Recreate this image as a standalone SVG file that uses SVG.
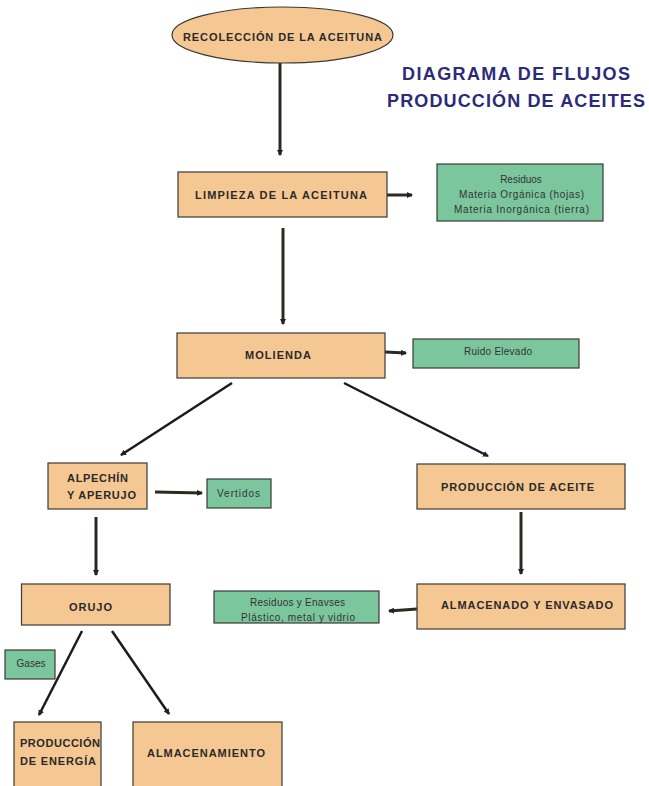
<svg xmlns="http://www.w3.org/2000/svg" width="649" height="786" viewBox="0 0 649 786">
<defs>
<style>
.o{fill:#f5c793;stroke:#3a3a32;stroke-width:1.2}
.g{fill:#7bc69d;stroke:#3a3a32;stroke-width:1.2}
.b{font-family:"Liberation Sans",Arial,sans-serif;font-weight:bold;font-size:11px;fill:#2a2a2a}
.r{font-family:"Liberation Sans",Arial,sans-serif;font-size:10px;fill:#333}
.t{font-family:"Liberation Sans",Arial,sans-serif;font-weight:bold;font-size:18px;fill:#2b2b7a}
.c{fill:none;stroke:#2b2b22;stroke-width:3}
.d{fill:none;stroke:#1c1c1c;stroke-width:2.5}
</style>
<marker id="ah" markerUnits="userSpaceOnUse" markerWidth="6" markerHeight="6" refX="5" refY="3" orient="auto">
<path d="M0,0 L6,3 L0,6 z" fill="#222"/>
</marker>
</defs>
<rect width="649" height="786" fill="#ffffff"/>

<g id="title">
<text class="t" x="402" y="80" textLength="228" lengthAdjust="spacing">DIAGRAMA DE FLUJOS</text>
<text class="t" x="387" y="107" textLength="258" lengthAdjust="spacing">PRODUCCIÓN DE ACEITES</text>
</g>

<g id="connectors">
<path class="c" d="M280,63 L280,155" marker-end="url(#ah)"/>
<path class="c" d="M387,195 L412,195" marker-end="url(#ah)"/>
<path class="c" d="M283,228 L283,324" marker-end="url(#ah)"/>
<path class="c" d="M385,352 L406,353" marker-end="url(#ah)"/>
<path class="d" d="M232,383 L121,455" marker-end="url(#ah)"/>
<path class="d" d="M344,383 L488,456" marker-end="url(#ah)"/>
<path class="c" d="M155,492 L202,493" marker-end="url(#ah)"/>
<path class="c" d="M96,517 L96,575" marker-end="url(#ah)"/>
<path class="c" d="M521,512 L521,574" marker-end="url(#ah)"/>
<path class="c" d="M417,609 L389,611" marker-end="url(#ah)"/>
<path class="d" d="M82,631 L39,715" marker-end="url(#ah)"/>
<path class="d" d="M112,631 L169,714" marker-end="url(#ah)"/>
</g>

<g id="recoleccion">
<ellipse class="o" cx="282.5" cy="35" rx="110.5" ry="28"/>
<text class="b" x="183" y="41" textLength="199" lengthAdjust="spacing">RECOLECCIÓN DE LA ACEITUNA</text>
</g>

<g id="limpieza">
<rect class="o" x="178" y="172" width="209" height="45"/>
<text class="b" x="195" y="199" textLength="172" lengthAdjust="spacing">LIMPIEZA DE LA ACEITUNA</text>
</g>

<g id="residuos">
<rect class="g" x="437" y="164" width="166" height="57"/>
<text class="r" x="521" y="183" text-anchor="middle">Residuos</text>
<text class="r" x="459" y="198" textLength="125" lengthAdjust="spacing">Materia Orgánica (hojas)</text>
<text class="r" x="454" y="213" textLength="135" lengthAdjust="spacing">Materia Inorgánica (tierra)</text>
</g>

<g id="molienda">
<rect class="o" x="177" y="333" width="208" height="45"/>
<text class="b" x="245" y="359" textLength="66" lengthAdjust="spacing">MOLIENDA</text>
</g>

<g id="ruido">
<rect class="g" x="413" y="339" width="166" height="29"/>
<text class="r" x="464" y="355" textLength="68" lengthAdjust="spacing">Ruido Elevado</text>
</g>

<g id="alpechin">
<rect class="o" x="48" y="463" width="99" height="46"/>
<text class="b" x="67" y="482" textLength="61" lengthAdjust="spacing">ALPECHÍN</text>
<text class="b" x="67" y="499" textLength="69" lengthAdjust="spacing">Y APERUJO</text>
</g>

<g id="vertidos">
<rect class="g" x="207" y="479" width="64" height="29"/>
<text class="r" x="217" y="497" textLength="43" lengthAdjust="spacing">Vertidos</text>
</g>

<g id="produccion-aceite">
<rect class="o" x="417" y="464" width="208" height="45"/>
<text class="b" x="441" y="491" textLength="153" lengthAdjust="spacing">PRODUCCIÓN DE ACEITE</text>
</g>

<g id="orujo">
<rect class="o" x="21.5" y="584" width="148.5" height="41"/>
<text class="b" x="69" y="611" textLength="43" lengthAdjust="spacing">ORUJO</text>
</g>

<g id="residuos-envases">
<rect class="g" x="214" y="591" width="165" height="32"/>
<text class="r" x="250" y="606" textLength="95" lengthAdjust="spacing">Residuos y Enavses</text>
<text class="r" x="241" y="621" textLength="114" lengthAdjust="spacing">Plástico, metal y vidrio</text>
</g>

<g id="almacenado">
<rect class="o" x="417" y="584" width="208" height="45"/>
<text class="b" x="441" y="609" textLength="172" lengthAdjust="spacing">ALMACENADO Y ENVASADO</text>
</g>

<g id="gases">
<rect class="g" x="5" y="650" width="50" height="29"/>
<text class="r" x="16.5" y="667" textLength="29" lengthAdjust="spacing">Gases</text>
</g>

<g id="produccion-energia">
<rect class="o" x="14" y="722" width="87" height="80"/>
<text class="b" x="20" y="747" textLength="80" lengthAdjust="spacing">PRODUCCIÓN</text>
<text class="b" x="20" y="765" textLength="76" lengthAdjust="spacing">DE ENERGÍA</text>
</g>

<g id="almacenamiento">
<rect class="o" x="133" y="722" width="149" height="80"/>
<text class="b" x="147" y="757" textLength="118" lengthAdjust="spacing">ALMACENAMIENTO</text>
</g>
</svg>
